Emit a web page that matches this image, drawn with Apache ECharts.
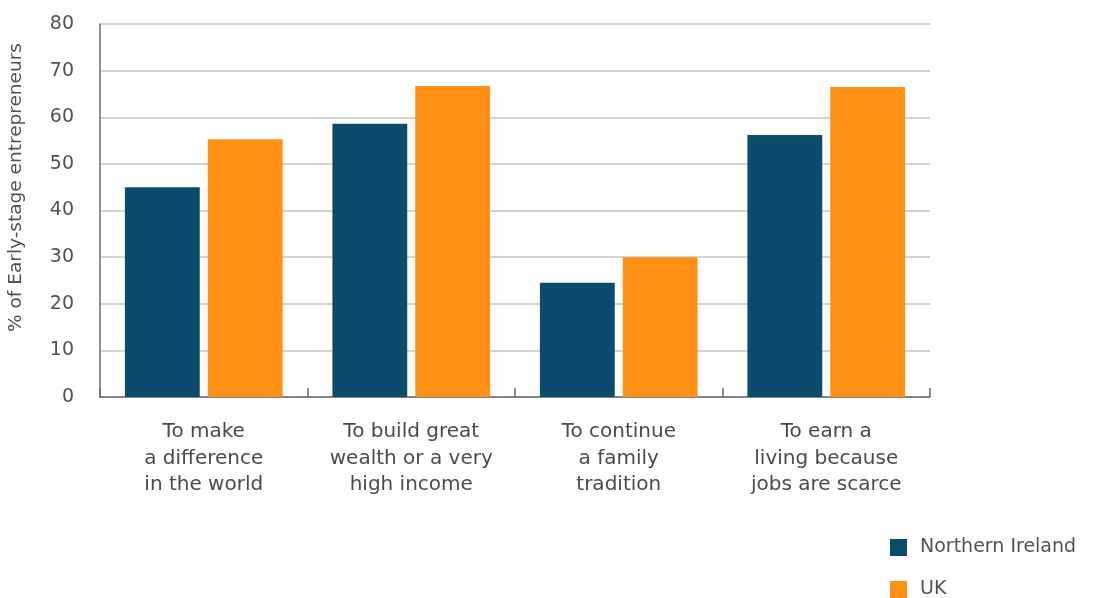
<!DOCTYPE html>
<html>
<head>
<meta charset="utf-8">
<script src="https://cdn.jsdelivr.net/npm/echarts@6/dist/echarts.min.js"></script>
<style>
  html, body { margin: 0; padding: 0; background: #fff; }
  #chart { width: 1111px; height: 598px; }
</style>
</head>
<body>
<div id="chart"></div>
<script>
// Motivations of early-stage entrepreneurs: Northern Ireland vs UK
const categories = [
  'To make\na difference\nin the world',
  'To build great\nwealth or a very\nhigh income',
  'To continue\na family\ntradition',
  'To earn a\nliving because\njobs are scarce'
];
const seriesNames = ['Northern Ireland', 'UK'];
const northernIreland = [45.0, 58.6, 24.5, 56.2];
const uk = [55.3, 66.7, 30.0, 66.5];
const yTicks = { min: 0, max: 80, interval: 10 };

const FONT = 'DejaVu Sans';
const TEXT = '#525252';
const COLORS = ['#0B4B6B', '#FF9014'];

const legendItem = (name, top) => ({
  orient: 'vertical',
  left: 890,
  top: top,
  padding: 0,
  itemWidth: 17,
  itemHeight: 17,
  icon: 'rect',
  textStyle: { fontFamily: FONT, fontSize: 19, color: TEXT, padding: [0, 0, 0, 8] },
  data: [name]
});

const chart = echarts.init(document.getElementById('chart'), null, { renderer: 'canvas' });
chart.setOption({
  animation: false,
  color: COLORS,
  textStyle: { fontFamily: FONT },
  grid: {
    left: 100, right: 181, top: 24, bottom: 201,
    containLabel: false, outerBoundsMode: 'none'
  },
  legend: [legendItem(seriesNames[0], 538), legendItem(seriesNames[1], 580)],
  xAxis: {
    type: 'category',
    data: categories,
    axisLine: { lineStyle: { color: '#6b6b6b', width: 1.5 } },
    axisTick: { show: true, inside: true, length: 9, lineStyle: { color: '#6b6b6b', width: 1.5 } },
    axisLabel: {
      fontFamily: FONT, fontSize: 20, color: '#4a4a4a',
      lineHeight: 26.5, margin: 22, interval: 0
    }
  },
  yAxis: {
    type: 'value',
    min: yTicks.min,
    max: yTicks.max,
    interval: yTicks.interval,
    name: '% of Early-stage entrepreneurs',
    nameLocation: 'middle',
    nameGap: 74,
    nameTextStyle: { fontFamily: FONT, fontSize: 18.5, color: TEXT, padding: [0, 0, 0, 46] },
    axisLine: { show: true, lineStyle: { color: '#6b6b6b', width: 1.5 } },
    axisTick: { show: false },
    axisLabel: { fontFamily: FONT, fontSize: 19, color: TEXT, margin: 26 },
    splitLine: { lineStyle: { color: '#c4c4c4', width: 1.5 } }
  },
  series: [
    {
      name: seriesNames[0],
      type: 'bar',
      data: northernIreland,
      itemStyle: { color: COLORS[0] },
      barGap: '10.7%',
      barCategoryGap: '24%'
    },
    {
      name: seriesNames[1],
      type: 'bar',
      data: uk,
      itemStyle: { color: COLORS[1] }
    }
  ]
});
</script>
</body>
</html>
